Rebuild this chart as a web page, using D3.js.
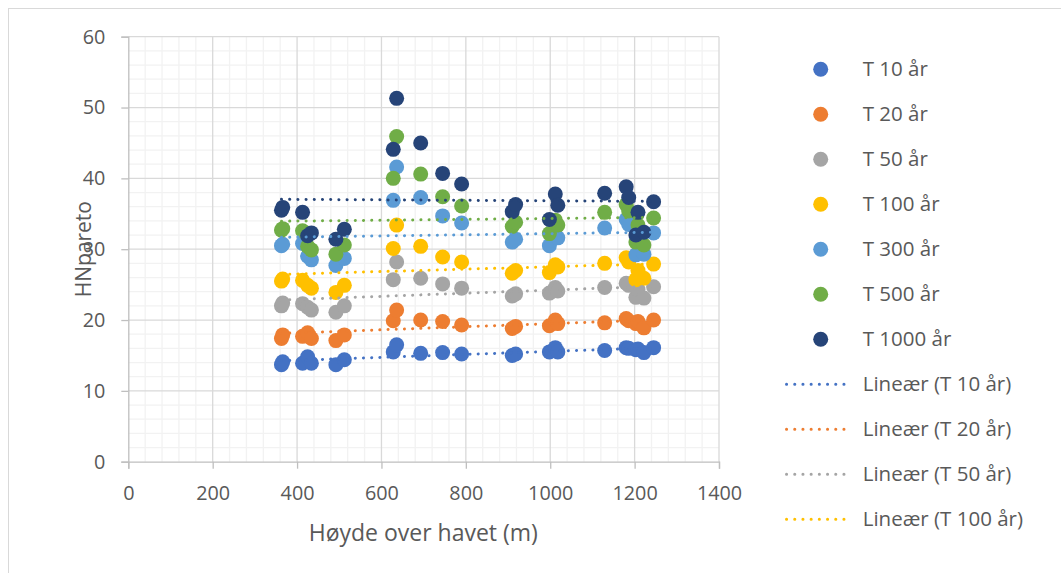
<!DOCTYPE html>
<html><head><meta charset="utf-8">
<script src="https://cdn.jsdelivr.net/npm/d3@7"></script>
<style>
html,body{margin:0;padding:0;background:#fff;overflow:hidden}
text{font-family:"Open Sans",sans-serif;fill:#595959}
</style></head>
<body>
<svg id="c" width="1061" height="573"></svg>
<script>
// ---- data ----
const elevations = [363, 366, 413, 425, 434, 492, 512, 628, 636, 693, 745, 790, 910, 918, 998, 1012, 1018, 1129, 1180, 1186, 1203, 1208, 1222, 1245];
const seriesNames = ["T 10 år", "T 20 år", "T 50 år", "T 100 år", "T 300 år", "T 500 år", "T 1000 år"];
const t10   = [13.7, 14.1, 13.9, 14.8, 13.9, 13.7, 14.4, 15.5, 16.5, 15.3, 15.4, 15.2, 15.0, 15.2, 15.5, 16.1, 15.5, 15.7, 16.1, 16.0, 15.8, 15.9, 15.4, 16.1];
const t20   = [17.4, 17.9, 17.7, 18.2, 17.4, 17.1, 17.9, 19.9, 21.4, 20.0, 19.8, 19.3, 18.8, 19.1, 19.2, 20.0, 19.5, 19.6, 20.2, 19.9, 19.5, 19.8, 18.9, 20.0];
const t50   = [22.0, 22.4, 22.3, 21.8, 21.4, 21.1, 22.0, 25.7, 28.2, 25.9, 25.1, 24.5, 23.4, 23.7, 23.8, 24.6, 24.1, 24.6, 25.2, 24.9, 23.2, 24.3, 23.1, 24.7];
const t100  = [25.5, 25.8, 25.6, 24.9, 24.5, 23.9, 24.9, 30.1, 33.4, 30.4, 28.9, 28.2, 26.6, 27.0, 26.7, 27.8, 27.5, 28.0, 28.8, 28.2, 25.7, 27.0, 25.9, 27.9];
const t300  = [30.5, 30.7, 30.8, 29.0, 28.5, 27.7, 28.7, 36.9, 41.6, 37.3, 34.7, 33.7, 31.0, 31.4, 30.5, 32.1, 31.6, 33.0, 34.2, 33.5, 29.2, 31.0, 29.3, 32.3];
const t500  = [32.7, 32.9, 32.6, 30.4, 29.9, 29.3, 30.6, 40.0, 45.9, 40.6, 37.4, 36.1, 33.2, 33.8, 32.2, 34.1, 33.4, 35.2, 36.3, 35.4, 31.0, 33.4, 30.6, 34.4];
const t1000 = [35.5, 35.9, 35.2, 31.9, 32.3, 31.4, 32.8, 44.1, 51.3, 45.0, 40.7, 39.2, 35.3, 36.3, 34.2, 37.8, 36.2, 37.9, 38.8, 37.3, 32.0, 35.2, 32.4, 36.7];
const xTicks = [0, 200, 400, 600, 800, 1000, 1200, 1400];
const yTicks = [0, 10, 20, 30, 40, 50, 60];
const xTitle = "Høyde over havet (m)";
const yTitle = "HNpareto";
const trendPrefix = "Lineær";
const colors = ["#4472C4", "#ED7D31", "#A5A5A5", "#FFC000", "#5B9BD5", "#70AD47", "#264478"];

const seriesValues = [t10, t20, t50, t100, t300, t500, t1000];

// ---- layout ----
const svg = d3.select("#c");
const L = 128.3, R = 719, T = 36.7, B = 461.7;
const x = d3.scaleLinear().domain([0, 1400]).range([L, R]);
const y = d3.scaleLinear().domain([0, 60]).range([B, T]);

// outer chart border
svg.append("rect").attr("x", 8.5).attr("y", 8.5).attr("width", 1100).attr("height", 600)
  .attr("fill", "none").attr("stroke", "#d9d9d9").attr("stroke-width", 1);

// minor grid
const g = svg.append("g");
g.selectAll(".mvx").data(d3.range(0, 1401, 40).filter(v => v % 200 !== 0)).join("line")
  .attr("x1", d => x(d)).attr("x2", d => x(d)).attr("y1", T).attr("y2", B)
  .attr("stroke", "#f2f2f2").attr("stroke-width", 1.3);
g.selectAll(".mhy").data(d3.range(0, 61, 2).filter(v => v % 10 !== 0)).join("line")
  .attr("x1", L).attr("x2", R).attr("y1", d => y(d)).attr("y2", d => y(d))
  .attr("stroke", "#f2f2f2").attr("stroke-width", 1.3);
// major grid
g.selectAll(".Mvx").data(xTicks.filter(v => v !== 0)).join("line")
  .attr("x1", d => x(d)).attr("x2", d => x(d)).attr("y1", T).attr("y2", B)
  .attr("stroke", "#d9d9d9").attr("stroke-width", 1.3);
g.selectAll(".Mhy").data(yTicks.filter(v => v !== 0)).join("line")
  .attr("x1", L).attr("x2", R).attr("y1", d => y(d)).attr("y2", d => y(d))
  .attr("stroke", "#d9d9d9").attr("stroke-width", 1.3);

// axes
const xAxis = d3.axisBottom(x).tickValues(xTicks).tickSize(7).tickPadding(12).tickFormat(d3.format("d"));
const yAxis = d3.axisLeft(y).tickValues(yTicks).tickSize(7).tickPadding(16).tickFormat(d3.format("d"));
const gx = svg.append("g").attr("transform", `translate(0,${B})`).call(xAxis);
const gy = svg.append("g").attr("transform", `translate(${L},0)`).call(yAxis);
[gx, gy].forEach(a => {
  a.select(".domain").attr("stroke", "#bfbfbf").attr("stroke-width", 1.3);
  a.selectAll(".tick line").attr("stroke", "#bfbfbf").attr("stroke-width", 1.3);
  a.selectAll(".tick text").style("font-family", '"Open Sans",sans-serif').style("font-size", "19.8px").attr("fill", "#595959");
});
gx.selectAll(".tick text").attr("dy", "1.0em");

// axis titles
svg.append("text").attr("x", 423.3).attr("y", 541).attr("text-anchor", "middle")
  .style("font-size", "23px").text(xTitle);
svg.append("text").attr("transform", `translate(91,${(T + B) / 2}) rotate(-90)`).attr("text-anchor", "middle")
  .style("font-size", "21px").text(yTitle);

// points
const pts = svg.append("g");
seriesValues.forEach((vals, i) => {
  pts.append("g").selectAll("circle").data(vals.map((v, k) => [elevations[k], v])).join("circle")
    .attr("cx", d => x(d[0])).attr("cy", d => y(d[1])).attr("r", 7.5).attr("fill", colors[i]);
});

// linear trendlines (least squares)
function linreg(xs, ys) {
  const mx = d3.mean(xs), my = d3.mean(ys);
  let sxy = 0, sxx = 0;
  xs.forEach((xv, k) => { sxy += (xv - mx) * (ys[k] - my); sxx += (xv - mx) * (xv - mx); });
  const b = sxy / sxx;
  return v => my + b * (v - mx);
}
const x0 = d3.min(elevations), x1 = d3.max(elevations);
const tl = svg.append("g");
seriesValues.forEach((vals, i) => {
  const f = linreg(elevations, vals);
  tl.append("line").attr("x1", x(x0)).attr("x2", x(x1)).attr("y1", y(f(x0))).attr("y2", y(f(x1)))
    .attr("stroke", colors[i]).attr("stroke-width", 3).attr("stroke-linecap", "round")
    .attr("stroke-dasharray", "0.1 8.1");
});

// legend
const leg = svg.append("g");
const entries = seriesNames.map((n, i) => ({ type: "pt", name: n, c: colors[i] }))
  .concat(seriesNames.slice(0, 4).map((n, i) => ({ type: "ln", name: `${trendPrefix} (${n})`, c: colors[i] })));
entries.forEach((e, i) => {
  const cy = 69.3 + i * 45;
  if (e.type === "pt") {
    leg.append("circle").attr("cx", 820.7).attr("cy", cy).attr("r", 7.5).attr("fill", e.c);
  } else {
    leg.append("line").attr("x1", 786.5).attr("x2", 851.5).attr("y1", cy).attr("y2", cy)
      .attr("stroke", e.c).attr("stroke-width", 3).attr("stroke-linecap", "round").attr("stroke-dasharray", "0.1 8.1");
  }
  leg.append("text").attr("x", 862.7).attr("y", cy).attr("dy", "0.33em").style("font-size", "20.5px").text(e.name);
});
</script>
</body></html>
